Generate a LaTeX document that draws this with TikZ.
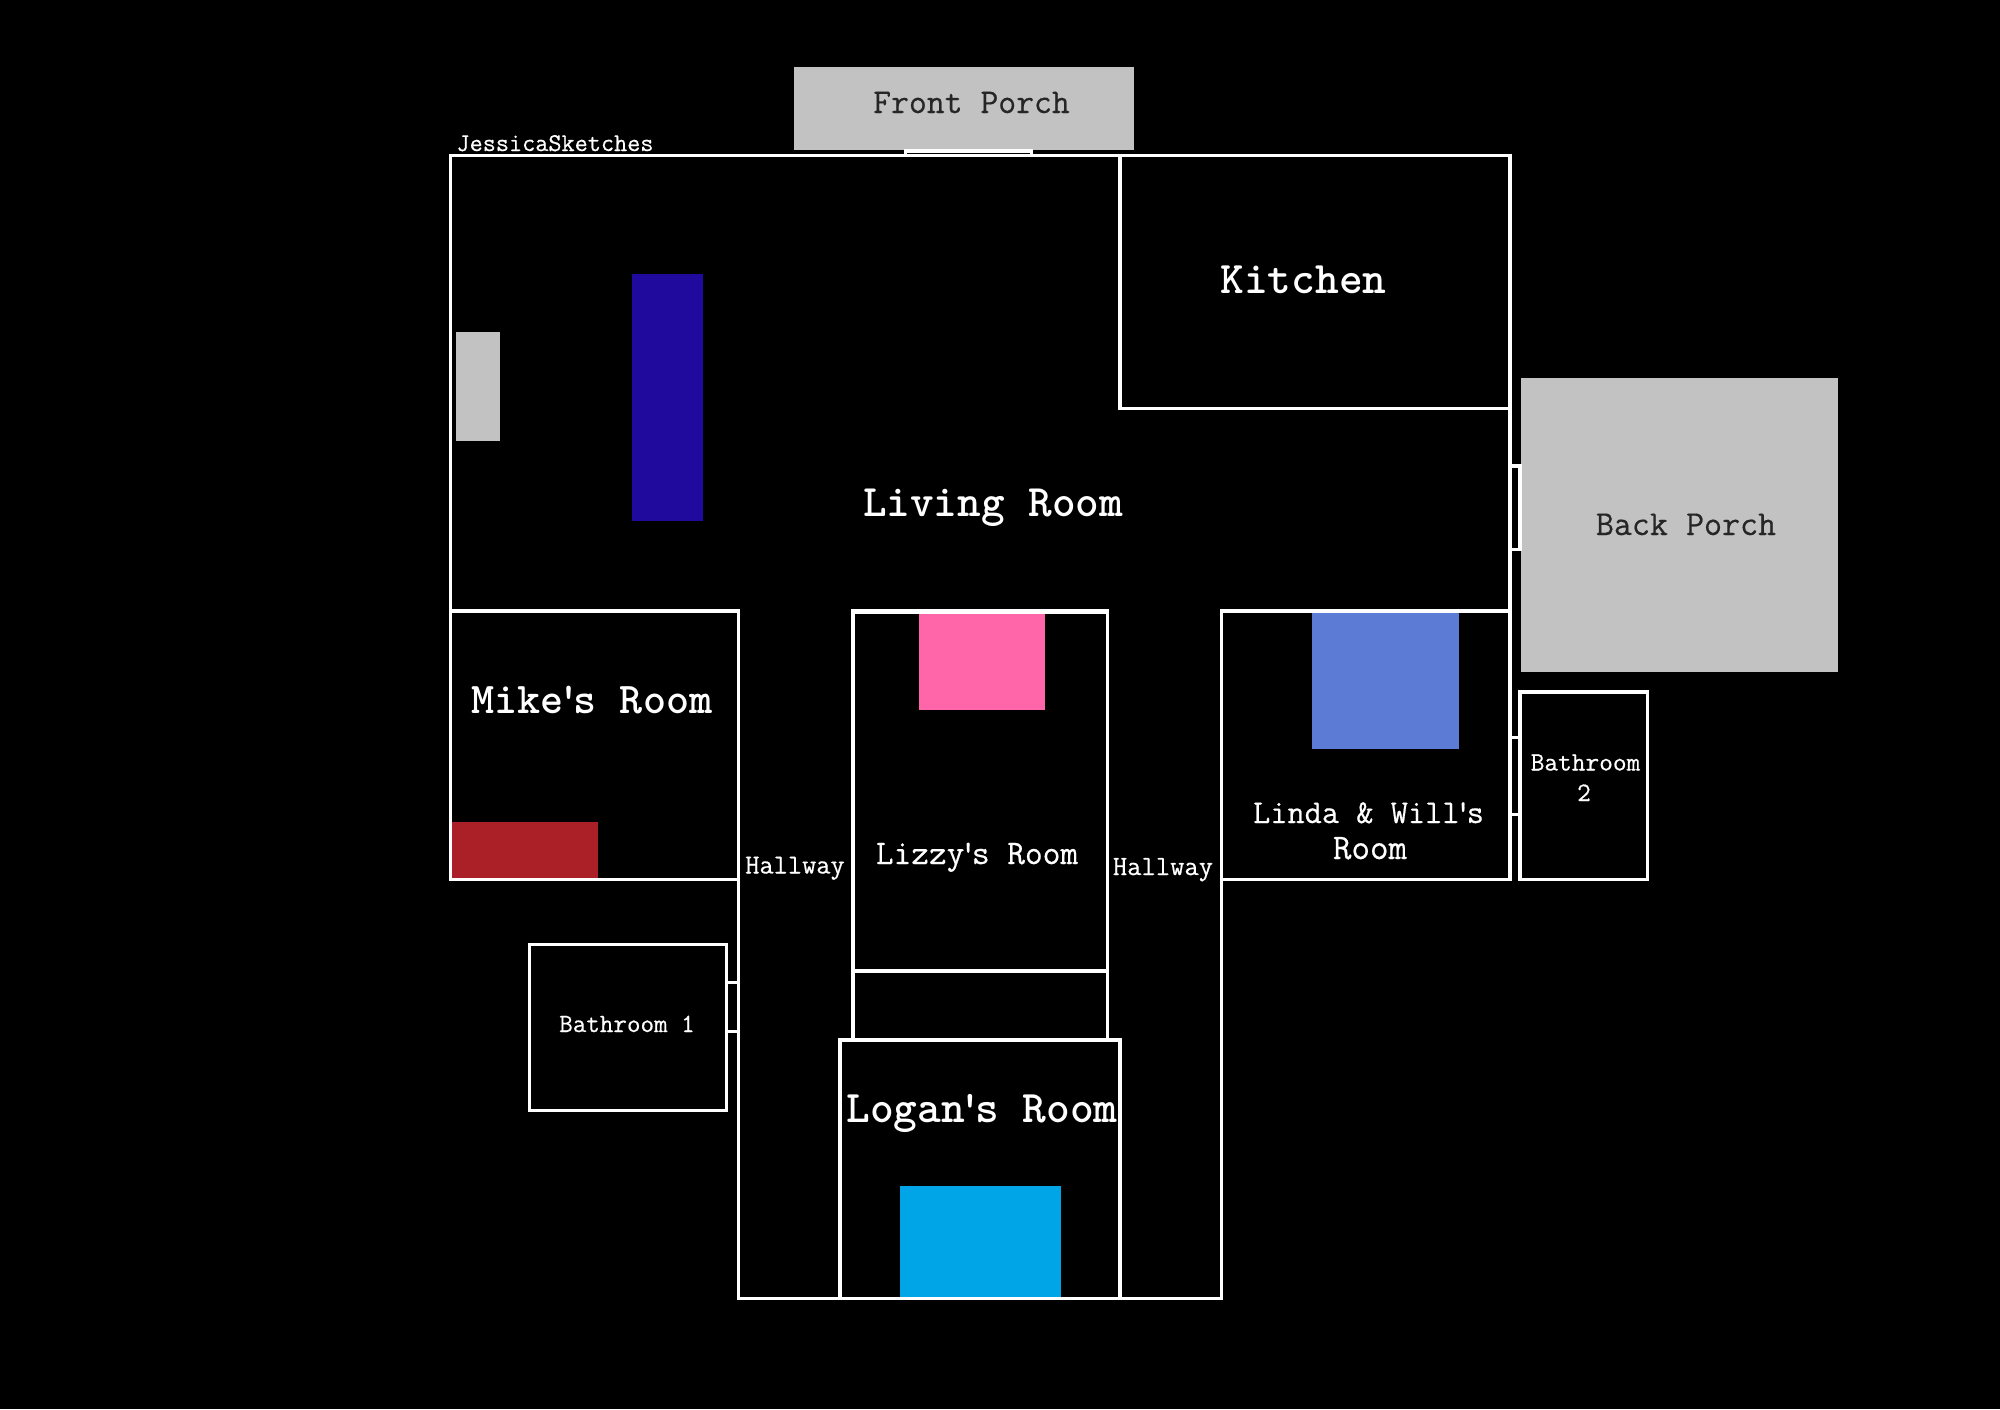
\documentclass[tikz,border=0pt]{standalone}
\usepackage{fontspec}
\usetikzlibrary{positioning, backgrounds}
\newfontfamily\typefont[FakeBold=0.5]{Latin Modern Mono}
\definecolor{porchgray}{HTML}{C2C2C2}
\definecolor{sofablue}{HTML}{200A9E}
\definecolor{mikered}{HTML}{AB2026}
\definecolor{lizzypink}{HTML}{FF66AA}
\definecolor{loganblue}{HTML}{00A5E8}
\definecolor{lindablue}{HTML}{5B7BD5}
\newcommand{\tick}{\kern-0.15em'\kern-0.15em}
\tikzstyle{wall} = [draw=white, line width=3.2pt]
\tikzset{
	roomtext/.style={text=white, anchor=base, inner sep=0pt, font=\ttfamily\bfseries\fontsize{#1}{#1}\selectfont},
	porchtext/.style={text=black!85, anchor=base, inner sep=0pt, font=\typefont\fontsize{#1}{#1}\selectfont},
	thintext/.style={text=white, anchor=base, inner sep=0pt, font=\typefont\fontsize{#1}{#1}\selectfont},
}

\begin{document}
\begin{tikzpicture}[x=1pt, y=-1pt]

\fill[black] (0,0) rectangle (2000,1409);
\useasboundingbox (0,0) rectangle (2000,1409);

	%furniture and porches
\foreach \xa/\ya/\xb/\yb/\shade in {794/66.5/1134/149.5/porchgray, 1521/377.5/1838/672/porchgray,
	456/332/500/441/porchgray, 632/273.5/703/521/sofablue, 452/821.5/598/878/mikered,
	919/613/1045/710/lizzypink, 1312/612/1459/748.5/lindablue, 900/1185.5/1061/1297/loganblue}
	\fill[\shade] (\xa,\ya) rectangle (\xb,\yb);

	%rooms
\draw[wall] (450.5,611) -- (450.5,155.5) -- (1510,155.5) -- (1510,880);
\draw[wall] (1120,155.5) rectangle (1510,408.5);
\draw[wall] (450.5,611) rectangle (738.5,879.5);
\draw[wall] (1221.5,611) rectangle (1510,879.5);
\draw[wall] (853,611.5) rectangle (1107.5,971);
\draw[wall, line width=4.5pt] (851,611.5) -- (1109,611.5);
\draw[wall] (853,971) -- (853,1040);
\draw[wall] (1107.5,971) -- (1107.5,1040);
\draw[wall] (840,1040) rectangle (1120,1298.5);
\draw[wall] (738.5,879.5) -- (738.5,1298.5) -- (1221.5,1298.5) -- (1221.5,879.5);
\draw[wall] (529.5,944.5) rectangle (726.5,1110.5);
\draw[wall, line width=3.6pt] (1520,692) rectangle (1647.5,879.5);

	%doors
\draw[wall] (905.5,155.5) -- (905.5,151) -- (1031.5,151) -- (1031.5,155.5);
\draw[wall] (1510,466) -- (1520,466) -- (1520,549.5) -- (1510,549.5);
\foreach \y in {737.5, 814.5}
	\draw[wall] (1510,\y) -- (1520,\y);
\foreach \y in {982.5, 1031.5}
	\draw[wall] (726.5,\y) -- (738.5,\y);

	%labels
\node[porchtext=34.7] (front porch) at (971.5,113) {Front Porch};
\node[porchtext=35] (back porch) at (1686,535) {Back Porch};
\node[thintext=25.5] (sketches) at (555,151) {JessicaSketches};
\node[roomtext=45] (living room) at (993,516) {Living Room};
\node[roomtext=45.2] (kitchen) at (1303.5,293.5) {Kitchen};
\node[roomtext=43.9] (mike) at (592,713.5) {Mike\tick s Room};
\node[thintext=34.4] (lizzy) at (977,864) {Lizzy\tick s Room};
\node[roomtext=45.2] (logan) at (982,1122.5) {Logan\tick s Room};
\node[thintext=33.4] (linda) at (1368.5,823) {Linda \& Will\tick s};
\node[thintext=36] (linda room) at (1370,859) {Room};
\node[thintext=26.6] (bath two) at (1585.5,770.5) {Bathroom};
\node[thintext=26.6] (bath two num) at (1584,801) {2};
\node[thintext=26.3] (bath one) at (627,1032) {Bathroom 1};
\node[thintext=27.6] (hall left) at (795,873.5) {Hallway};
\node[thintext=27.8] (hall right) at (1163,875) {Hallway};

\end{tikzpicture}
\end{document}
